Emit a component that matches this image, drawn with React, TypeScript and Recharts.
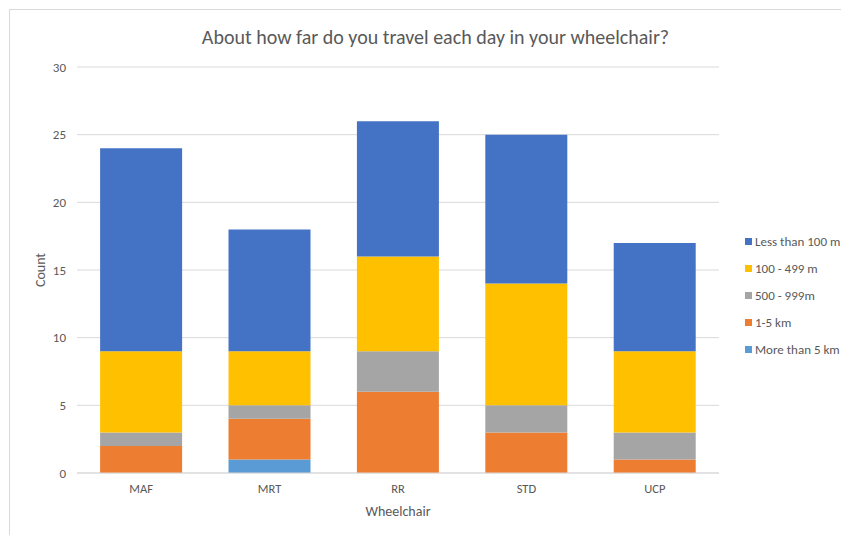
import React from "react";
import { Bar, BarChart, CartesianGrid, Legend, XAxis, YAxis } from "recharts";

const wheelchairs = ["MAF", "MRT", "RR", "STD", "UCP"];
const moreThan5km = [0, 1, 0, 0, 0];
const km1to5 = [2, 3, 6, 3, 1];
const m500to999 = [1, 1, 3, 2, 2];
const m100to499 = [6, 4, 7, 9, 6];
const lessThan100m = [15, 9, 10, 11, 8];
const countTicks = [0, 5, 10, 15, 20, 25, 30];

const series = [
    { key: "moreThan5km", name: "More than 5 km", color: "#5B9BD5", values: moreThan5km },
    { key: "km1to5", name: "1-5 km", color: "#ED7D31", values: km1to5 },
    { key: "m500to999", name: "500 - 999m", color: "#A5A5A5", values: m500to999 },
    { key: "m100to499", name: "100 - 499 m", color: "#FFC000", values: m100to499 },
    { key: "lessThan100m", name: "Less than 100 m", color: "#4472C4", values: lessThan100m },
];

const data = wheelchairs.map((name, i) => {
    const row: any = { name };
    series.forEach((s) => (row[s.key] = s.values[i]));
    return row;
});

const FONT = "Carlito, Calibri, Lato, sans-serif";
const TEXT = "#595959";
const GRID = "#D9D9D9";

// legend lists the top of the stack first, like excel does
const LegendList = () => {
    const items = [...series].reverse();
    return (
        <div style={{ fontFamily: FONT, fontSize: 13, color: TEXT }}>
            {items.map((it) => (
                <div key={it.key} style={{ height: 27, display: "flex", alignItems: "center" }}>
                    <span style={{ width: 7, height: 7, background: it.color, marginRight: 3, display: "inline-block" }} />
                    <span>{it.name}</span>
                </div>
            ))}
        </div>
    );
};

const CountLabel = (props: any) => {
    const vb = props.viewBox || {};
    const x = 30;
    const y = vb.y + vb.height / 2;
    return (
        <text x={x} y={y} transform={`rotate(-90, ${x}, ${y})`} textAnchor="middle" dominantBaseline="central"
              fill={TEXT} fontSize={14} fontFamily={FONT}>
            Count
        </text>
    );
};

export default function App() {
    return (
        <div style={{ margin: "1px 0 0 1px", border: `1px solid ${GRID}`, width: 850, height: 540, position: "relative", background: "#fff" }}>
            <div style={{ position: "absolute", left: 0, top: 16, width: 851, textAlign: "center", fontFamily: FONT, fontSize: 20, lineHeight: "22px", color: TEXT }}>
                About how far do you travel each day in your wheelchair?
            </div>
            <BarChart width={850} height={525} data={data} barCategoryGap="18%"
                      margin={{ top: 57, right: 141, left: 10, bottom: 17 }}>
                <CartesianGrid vertical={false} stroke={GRID} />
                <XAxis dataKey="name" height={45} tickLine={false} tickSize={0} tickMargin={11}
                       axisLine={{ stroke: GRID }}
                       tick={{ fill: TEXT, fontSize: 12.5, fontFamily: FONT }}
                       label={{ value: "Wheelchair", position: "insideBottom", offset: 2, fill: TEXT, fontSize: 14, fontFamily: FONT }} />
                <YAxis width={57} domain={[0, 30]} ticks={countTicks} tickLine={false} axisLine={false}
                       tickSize={0} tickMargin={11}
                       tick={{ fill: TEXT, fontSize: 13, fontFamily: FONT }}
                       label={<CountLabel />} />
                {series.map((s) => (
                    <Bar key={s.key} dataKey={s.key} name={s.name} stackId="a" fill={s.color} isAnimationActive={false} />
                ))}
                <Legend layout="vertical" verticalAlign="middle" align="center" content={<LegendList />}
                        wrapperStyle={{ position: "absolute", left: 735, top: 218, width: 112, margin: 0 }} />
            </BarChart>
        </div>
    );
}
